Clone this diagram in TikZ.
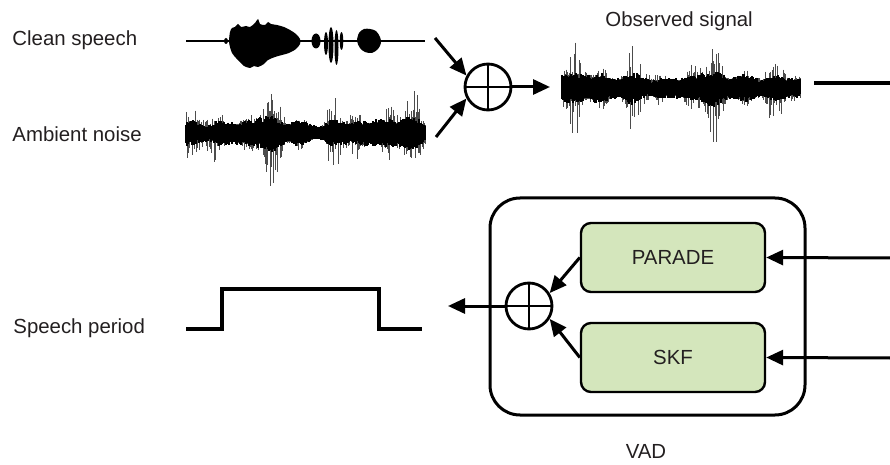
\documentclass[tikz,border=0pt]{standalone}
\usepackage{fontspec}
\setmainfont{Liberation Sans}
\usetikzlibrary{arrows.meta}

\definecolor{blockgreen}{RGB}{212,230,188}
\definecolor{inkgray}{RGB}{35,31,32}

\tikzset{
  arr/.style={line width=1.5pt,-{Triangle[length=8.5pt,width=7.5pt]}},
  sumnode/.style={draw,circle,line width=1.4pt,minimum size=23pt,inner sep=0pt,
    path picture={\draw[line width=1.4pt]
      (path picture bounding box.north) -- (path picture bounding box.south)
      (path picture bounding box.west) -- (path picture bounding box.east);}},
  block/.style={draw,fill=blockgreen,rounded corners=5pt,line width=1.2pt,
    minimum width=92pt,minimum height=34.5pt,text=inkgray},
  lbl/.style={anchor=base west,inner sep=0pt,text=inkgray},
  wavecore/.style={line width=0.8pt},
  wavespike/.style={line width=0.5pt,black!70},
}

% #1 first x, #2 last x, #3 centre line, #4 band half width, #5 seed
\newcommand{\noiseband}[5]{%
  \pgfmathsetseed{#5}%
  \foreach \x in {#1,...,#2}{%
    \pgfmathsetmacro\env{1+0.2*sin(\x*2.9+#5*7)+0.12*sin(\x*9.7+60)}%
    \pgfmathsetmacro\burst{(0.5+0.28*sin(\x*5.3+#5*13)+0.22*sin(\x*12.7+#5*31))^2}%
    \pgfmathsetmacro\rr{rnd}%
    \pgfmathsetmacro\hi{#4*\env*(0.7+3.3*\burst*\rr*\rr)}%
    \pgfmathsetmacro\rr{rnd}%
    \pgfmathsetmacro\lo{#4*\env*(0.7+3.6*\burst*\rr*\rr)}%
    \draw[wavespike] (\x,#3-\hi) -- (\x,#3+\lo);
    \pgfmathsetmacro\up{#4*\env*(0.65+0.45*rnd)*(0.85+0.35*\burst)}%
    \pgfmathsetmacro\dn{#4*\env*(0.65+0.45*rnd)*(0.85+0.4*\burst)}%
    \draw[wavecore] (\x,#3-\up) -- (\x,#3+\dn);
  }}

\begin{document}
\begin{tikzpicture}[x=0.5pt,y=-0.5pt,font=\fontsize{10.2pt}{12pt}\selectfont]
\useasboundingbox (0,0) rectangle (890,465);


\node[lbl] (clean-lbl) at (12,45.7) {Clean speech};
\node[lbl] (noise-lbl) at (12,141.7) {Ambient noise};
\node[lbl] (period-lbl) at (13,333) {Speech period};
\node[lbl] (obs-lbl) at (605,27) {Observed signal};


% clean speech
\draw[line width=0.8pt] (186,41) -- (425,41);
\fill (226,41) ellipse [x radius=1pt,y radius=1.5pt];
\fill plot[smooth cycle] coordinates {(229,41) (230,32) (232,28) (235,27) (238,24)
  (241,27) (246,26) (250,27) (255,23) (258,19) (260,24) (265,25) (268,22) (271,24)
  (277,25) (284,27) (290,30) (296,34) (300,39) (300,44) (296,49) (289,53) (282,55)
  (275,57) (268,60) (264,64) (258,67) (254,66) (250,68) (244,66) (240,62) (236,58)
  (232,53) (230,47)};
\fill (316,41) ellipse [x radius=2.25pt,y radius=3.75pt];
\fill (326,43.5) ellipse [x radius=1pt,y radius=5.75pt];
\fill (331,45) ellipse [x radius=1.25pt,y radius=9pt];
\fill (336.5,47.5) ellipse [x radius=1pt,y radius=8.75pt];
\fill (341.5,41) ellipse [x radius=0.9pt,y radius=4.5pt];
\fill plot[smooth cycle] coordinates {(357,41) (359,33) (364,29) (370,29) (376,31)
  (380,37) (381,43) (378,49) (372,53) (365,52) (360,48)};

% noise and observed signal
\noiseband{186}{425}{133}{12}{7}
\noiseband{562}{800}{88}{12}{23}


\node[sumnode] (mix) at (488,87) {};
\coordinate (clean-out) at (435,38);
\coordinate (noise-out) at (436,137);
\coordinate (obs-in) at (550,87);
\draw[arr] (clean-out) -- (mix.152);
\draw[arr] (noise-out) -- (mix.208);
\draw[arr] (mix.east) -- (obs-in);

\coordinate (obs-out) at (814,83);
\coordinate (edge-top) at (890,83);
\draw[line width=1.6pt] (obs-out) -- (edge-top);


% detector
\node[draw,rounded corners=15pt,line width=1.5pt,minimum width=157.5pt,
  minimum height=108.5pt] (vad) at (647.5,306.5) {};
\node[block] (parade) at (673,257.5) {PARADE};
\node[block] (skf) at (673,357.5) {SKF};
\node[sumnode] (vsum) at (529,306) {};

\coordinate (in-a) at (890,258);
\coordinate (in-b) at (890,358);
\coordinate (vad-out) at (448,306);
\draw[arr] (in-a) -- (parade.east);
\draw[arr] (in-b) -- (skf.east);
\draw[arr] (parade.west) -- (vsum.32);
\draw[arr] (skf.west) -- (vsum.-32);
\draw[arr] (vsum.west) -- (vad-out);

\node[anchor=base,inner sep=0pt,text=inkgray] (vad-lbl) at (646,458) {VAD};


% speech period
\draw[line width=2pt] (186,329) -- (222,329) -- (222,289) -- (379,289)
  -- (379,329) -- (422,329);

\end{tikzpicture}
\end{document}
